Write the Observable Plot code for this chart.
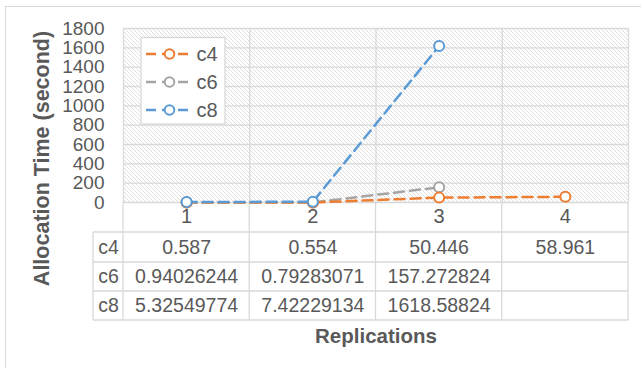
<!DOCTYPE html>
<html><head><meta charset="utf-8">
<script src="https://cdn.jsdelivr.net/npm/d3@7"></script>
<script src="https://cdn.jsdelivr.net/npm/@observablehq/plot@0.6"></script>
<style>
body{margin:0;background:#fff;}
#wrap{position:relative;width:641px;height:368px;overflow:hidden;background:#fff;}
#frame{position:absolute;left:5px;top:6px;width:700px;height:400px;border:1.5px solid #d9d9d9;}
#chart{position:absolute;left:0;top:0;}
</style></head><body>
<div id="wrap"><div id="frame"></div><div id="chart"></div></div>
<script>
// ---- data ----
const replications = [1, 2, 3, 4];
const seriesNames = ["c4", "c6", "c8"];
const c4 = [0.587, 0.554, 50.446, 58.961];
const c6 = [0.94026244, 0.79283071, 157.272824, null];
const c8 = [5.32549774, 7.42229134, 1618.58824, null];
const c4Text = ["0.587", "0.554", "50.446", "58.961"];
const c6Text = ["0.94026244", "0.79283071", "157.272824", ""];
const c8Text = ["5.32549774", "7.42229134", "1618.58824", ""];
const yTicks = [0, 200, 400, 600, 800, 1000, 1200, 1400, 1600, 1800];
const seriesColors = ["#ED7D31", "#A5A5A5", "#5B9BD5"];
const yTitle = "Allocation Time (second)";
const xTitle = "Replications";

// ---- build rows ----
const seriesValues = {c4, c6, c8};
const seriesTexts = {c4: c4Text, c6: c6Text, c8: c8Text};
const rows = [];
seriesNames.forEach(s => seriesValues[s].forEach((v, i) => {
  if (v != null) rows.push({series: s, rep: replications[i], value: v, label: seriesTexts[s][i]});
}));
const drawOrder = ["c6", "c4", "c8"];

const FONT = '"Liberation Sans", Arial, sans-serif';
const TEXT = "#595959";
const GRID = "#d9d9d9";
const colorOf = s => seriesColors[seriesNames.indexOf(s)];

// hatch background of plot area
const hatch = (index, scales, values, dims) => {
  const g = d3.create("svg:g");
  const p = g.append("defs").append("pattern").attr("id", "hatch")
    .attr("patternUnits", "userSpaceOnUse").attr("width", 4).attr("height", 4);
  p.append("rect").attr("width", 4).attr("height", 4).attr("fill", "#fff");
  p.append("path").attr("d", "M-1,-1L5,5M-1,3L1,5M3,-1L5,1")
    .attr("stroke", "#d8d8d8").attr("stroke-width", 0.8);
  g.append("rect").attr("x", dims.marginLeft).attr("y", dims.marginTop)
    .attr("width", dims.width - dims.marginLeft - dims.marginRight)
    .attr("height", dims.height - dims.marginTop - dims.marginBottom)
    .attr("fill", "url(#hatch)");
  return g.node();
};

// data table grid
const rowEdges = [232, 262, 291, 320];
const tableGrid = (index, {x}, values, dims) => {
  const g = d3.create("svg:g").attr("stroke", GRID).attr("stroke-width", 1.3);
  const left = 93, right = x(4.5), top = dims.height - dims.marginBottom;
  rowEdges.forEach(yy => g.append("line").attr("x1", left).attr("x2", right).attr("y1", yy).attr("y2", yy));
  g.append("line").attr("x1", left).attr("x2", left).attr("y1", rowEdges[0]).attr("y2", rowEdges[3]);
  [0.5, 1.5, 2.5, 3.5, 4.5].forEach(v => g.append("line").attr("x1", x(v)).attr("x2", x(v)).attr("y1", top).attr("y2", rowEdges[3]));
  return g.node();
};

// legend
const legend = () => {
  const g = d3.create("svg:g");
  g.append("rect").attr("x", 141).attr("y", 37.5).attr("width", 84).attr("height", 86.5)
    .attr("fill", "#fff").attr("stroke", GRID).attr("stroke-width", 1.3);
  seriesNames.forEach((s, i) => {
    const yy = 54 + i * 28;
    g.append("line").attr("x1", 146).attr("x2", 193).attr("y1", yy).attr("y2", yy)
      .attr("stroke", colorOf(s)).attr("stroke-width", 2.5).attr("stroke-dasharray", "10,6");
    g.append("circle").attr("cx", 169.5).attr("cy", yy).attr("r", 4.8)
      .attr("fill", "#fff").attr("stroke", colorOf(s)).attr("stroke-width", 2);
    g.append("text").attr("x", 196.5).attr("y", yy).attr("dy", "0.35em")
      .attr("text-anchor", "start").attr("fill", TEXT)
      .style("font-size", "20px").text(s);
  });
  return g.node();
};

const rowDy = {c4: 45, c6: 74, c8: 103};

const chart = Plot.plot({
  width: 641,
  height: 368,
  marginTop: 28,
  marginBottom: 166,
  marginLeft: 123,
  marginRight: 13,
  style: {fontFamily: FONT, fontSize: "19px", color: TEXT, background: "transparent", overflow: "visible"},
  x: {type: "linear", domain: [0.5, 4.5], axis: null},
  y: {domain: [0, 1800], axis: null},
  color: {domain: seriesNames, range: seriesColors},
  marks: [
    hatch,
    Plot.ruleY(yTicks, {stroke: GRID, strokeWidth: 1.3}),
    Plot.ruleX([0.5, 1.5, 2.5, 3.5, 4.5], {stroke: GRID, strokeWidth: 1.3}),
    Plot.axisY({ticks: yTicks, tickSize: 0, tickPadding: 19, tickFormat: d => String(d), fontSize: 19, color: TEXT, label: null}),
    tableGrid,
    Plot.text(replications, {x: d => d, text: d => String(d), frameAnchor: "bottom", lineAnchor: "middle", dy: 14, fill: TEXT, fontSize: 20}),
    ...seriesNames.flatMap(s => [
      Plot.text(rows.filter(d => d.series === s), {x: "rep", text: "label", frameAnchor: "bottom", lineAnchor: "middle", dy: rowDy[s], fill: TEXT, fontSize: 19.5}),
      Plot.text([s], {text: d => d, frameAnchor: "bottom-left", lineAnchor: "middle", dx: -15, dy: rowDy[s], fill: TEXT, fontSize: 19.5, textAnchor: "middle"})
    ]),
    ...drawOrder.flatMap(s => [
      Plot.line(rows.filter(d => d.series === s), {x: "rep", y: "value", stroke: "series", strokeWidth: 2.5, strokeDasharray: "10,6"}),
      Plot.dot(rows.filter(d => d.series === s), {x: "rep", y: "value", stroke: "series", fill: "white", r: 5, strokeWidth: 2})
    ]),
    legend,
    Plot.text([yTitle], {text: d => d, frameAnchor: "left", textAnchor: "middle", lineAnchor: "middle", dx: -81, dy: 43, rotate: -90, fontWeight: "bold", fontSize: 21.5, fill: TEXT}),
    Plot.text([xTitle], {text: d => d, frameAnchor: "bottom", lineAnchor: "middle", dy: 134, fontWeight: "bold", fontSize: 20.5, fill: TEXT})
  ]
});
document.getElementById("chart").appendChild(chart);
</script>
</body></html>
